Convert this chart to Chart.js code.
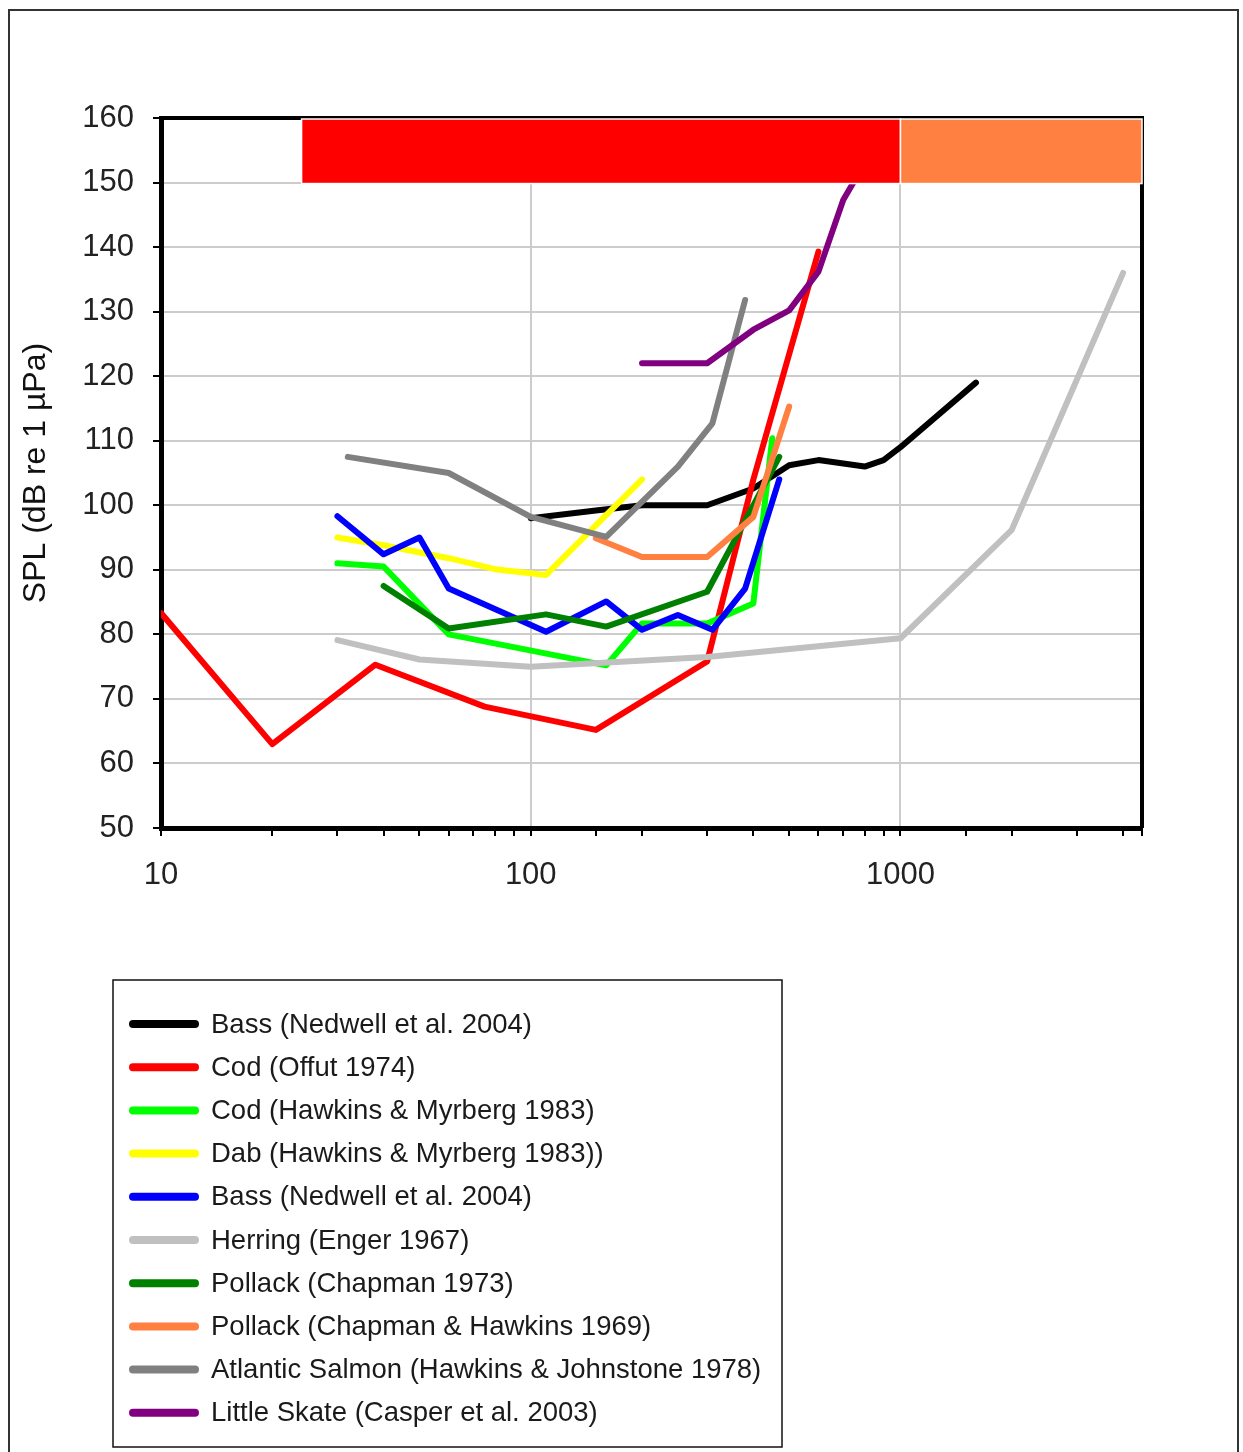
<!DOCTYPE html>
<html>
<head>
<meta charset="utf-8">
<script src="https://cdn.jsdelivr.net/npm/chart.js@4.4.0/dist/chart.umd.min.js"></script>
<style>
  html, body { margin: 0; padding: 0; background: #fff; }
  #wrap { width: 1243px; height: 1452px; position: relative; }
</style>
</head>
<body>
<div id="wrap"><canvas id="audiogram" width="1243" height="1452"></canvas></div>
<script>
// series names (legend order)
var seriesNames = [
  'Bass (Nedwell et al. 2004)',
  'Cod (Offut 1974)',
  'Cod (Hawkins & Myrberg 1983)',
  'Dab (Hawkins & Myrberg 1983))',
  'Bass (Nedwell et al. 2004)',
  'Herring (Enger 1967)',
  'Pollack (Chapman 1973)',
  'Pollack (Chapman & Hawkins 1969)',
  'Atlantic Salmon (Hawkins & Johnstone 1978)',
  'Little Skate (Casper et al. 2003)'
];
var seriesColors = ['#000000', '#ff0000', '#00ff00', '#ffff00', '#0000ff',
                    '#c0c0c0', '#008000', '#ff8040', '#808080', '#800080'];

// frequency (Hz) and threshold (dB re 1 uPa)
var bassFreq    = [100, 150, 200, 300, 400, 500, 600, 800, 900, 1000, 1600];
var bassSpl     = [98, 99.2, 100, 100, 102.6, 106.2, 107, 106, 107, 109, 119];
var codOffFreq  = [10, 20, 38, 75, 150, 300, 400, 600];
var codOffSpl   = [83.3, 63, 75.3, 68.8, 65.2, 75.8, 104, 139.3];
var codHawFreq  = [30, 40, 60, 160, 200, 300, 400, 450];
var codHawSpl   = [91, 90.5, 80, 75.2, 81.7, 81.7, 84.8, 110.4];
var dabFreq     = [30, 40, 60, 80, 110, 200];
var dabSpl      = [95, 93.8, 91.8, 90.1, 89.2, 104];
var bass2Freq   = [30, 40, 50, 60, 110, 160, 200, 250, 310, 380, 470];
var bass2Spl    = [98.3, 92.4, 95, 87.1, 80.4, 85.1, 80.7, 83, 80.7, 87.1, 104];
var herringFreq = [30, 50, 100, 300, 1000, 2000, 4000];
var herringSpl  = [79.1, 76.1, 75, 76.5, 79.4, 96.2, 136];
var pol73Freq   = [40, 60, 110, 160, 300, 470];
var pol73Spl    = [87.5, 80.9, 83.1, 81.2, 86.6, 107.5];
var pol69Freq   = [150, 200, 300, 400, 500];
var pol69Spl    = [94.9, 92, 92, 98.2, 115.3];
var salmonFreq  = [32, 60, 100, 160, 250, 310, 380];
var salmonSpl   = [107.5, 105, 98.2, 95.1, 106, 112.7, 131.8];
var skateFreq   = [200, 300, 400, 500, 600, 700, 800];
var skateSpl    = [122, 122, 127.2, 130.2, 136.2, 147.3, 153];

var allFreq = [bassFreq, codOffFreq, codHawFreq, dabFreq, bass2Freq,
               herringFreq, pol73Freq, pol69Freq, salmonFreq, skateFreq];
var allSpl  = [bassSpl, codOffSpl, codHawSpl, dabSpl, bass2Spl,
               herringSpl, pol73Spl, pol69Spl, salmonSpl, skateSpl];

// bands across the top of the plot
var bandFrom   = [24, 1000];
var bandTo     = [1000, 4500];
var bandLow    = [150, 150];
var bandHigh   = [160, 160];
var bandColors = ['#ff0000', '#ff8040'];

var xTickLabels = [10, 100, 1000];
var fontFam = '"Liberation Sans", Arial, sans-serif';

function isPow10(v) {
  var l = Math.log10(v);
  return Math.abs(l - Math.round(l)) < 1e-9;
}

var datasets = [];
for (var i = 0; i < seriesNames.length; i++) {
  var pts = [];
  for (var j = 0; j < allFreq[i].length; j++) {
    pts.push({ x: allFreq[i][j], y: allSpl[i][j] });
  }
  datasets.push({
    label: seriesNames[i],
    data: pts,
    borderColor: seriesColors[i],
    backgroundColor: seriesColors[i],
    borderWidth: 6,
    borderCapStyle: 'round',
    borderJoinStyle: 'round',
    pointRadius: 0,
    fill: false,
    tension: 0,
    order: -i
  });
}

// page frame, top bands, plot frame and legend box
var extras = {
  id: 'extras',
  beforeDraw: function (chart) {
    var c = chart.ctx;
    c.save();
    c.strokeStyle = '#333';
    c.lineWidth = 2;
    c.beginPath();
    c.moveTo(9, 1452); c.lineTo(9, 10); c.lineTo(1238, 10); c.lineTo(1238, 1452);
    c.stroke();
    c.restore();
  },
  afterDatasetsDraw: function (chart) {
    var c = chart.ctx, xs = chart.scales.x, ys = chart.scales.y, a = chart.chartArea;
    c.save();
    // plot frame top and right
    c.strokeStyle = '#000';
    c.lineWidth = 4;
    c.beginPath();
    c.moveTo(a.left, a.top); c.lineTo(a.right, a.top); c.lineTo(a.right, a.bottom);
    c.stroke();
    for (var k = 0; k < bandFrom.length; k++) {
      var x0 = xs.getPixelForValue(bandFrom[k]), x1 = xs.getPixelForValue(bandTo[k]);
      var y0 = ys.getPixelForValue(bandHigh[k]), y1 = ys.getPixelForValue(bandLow[k]);
      c.fillStyle = bandColors[k];
      c.fillRect(x0, y0 + 1, x1 - x0, y1 - y0);
      c.strokeStyle = '#fff';
      c.lineWidth = 1.5;
      c.strokeRect(x0, y0 + 1, x1 - x0, y1 - y0);
    }
    c.restore();
  },
  afterDraw: function (chart) {
    var c = chart.ctx;
    c.save();
    c.strokeStyle = '#111';
    c.lineWidth = 1.5;
    c.strokeRect(113, 980, 669, 467);
    c.font = '27.5px ' + fontFam;
    c.textBaseline = 'middle';
    c.fillStyle = '#1a1a1a';
    for (var k = 0; k < seriesNames.length; k++) {
      var yy = 1024 + k * 43.2;
      c.strokeStyle = seriesColors[k];
      c.lineWidth = 8;
      c.lineCap = 'round';
      c.beginPath();
      c.moveTo(133, yy); c.lineTo(195, yy);
      c.stroke();
      c.fillText(seriesNames[k], 211, yy + 1);
    }
    c.restore();
  }
};

var ctx = document.getElementById('audiogram').getContext('2d');
var audiogram = new Chart(ctx, {
  type: 'line',
  data: { datasets: datasets },
  options: {
    responsive: false,
    animation: false,
    layout: { padding: { top: 118, right: 101, bottom: 564, left: 0 } },
    plugins: { legend: { display: false }, tooltip: { enabled: false } },
    scales: {
      x: {
        type: 'logarithmic',
        min: 10,
        max: 4500,
        afterFit: function (s) { s.height = 60; },
        border: { color: '#000', width: 5 },
        grid: {
          color: function (c) { return c.tick && isPow10(c.tick.value) ? '#cccccc' : 'rgba(0,0,0,0)'; },
          lineWidth: 2,
          tickColor: '#000',
          tickLength: 8,
          tickWidth: 2
        },
        ticks: {
          autoSkip: false,
          maxRotation: 0,
          padding: 21,
          color: '#222',
          font: { size: 31, family: fontFam },
          callback: function (v) { return xTickLabels.indexOf(v) >= 0 ? String(v) : ''; }
        }
      },
      y: {
        min: 50,
        max: 160,
        afterFit: function (s) { s.width = 161; },
        border: { color: '#000', width: 5 },
        grid: { color: '#cccccc', lineWidth: 2, tickColor: '#000', tickLength: 8, tickWidth: 2 },
        ticks: { stepSize: 10, padding: 19, color: '#222', font: { size: 31, family: fontFam } },
        title: {
          display: true,
          text: 'SPL (dB re 1 µPa)',
          color: '#111',
          font: { size: 32, family: fontFam },
          padding: { top: 17, bottom: 0 }
        }
      }
    }
  },
  plugins: [extras]
});
</script>
</body>
</html>
